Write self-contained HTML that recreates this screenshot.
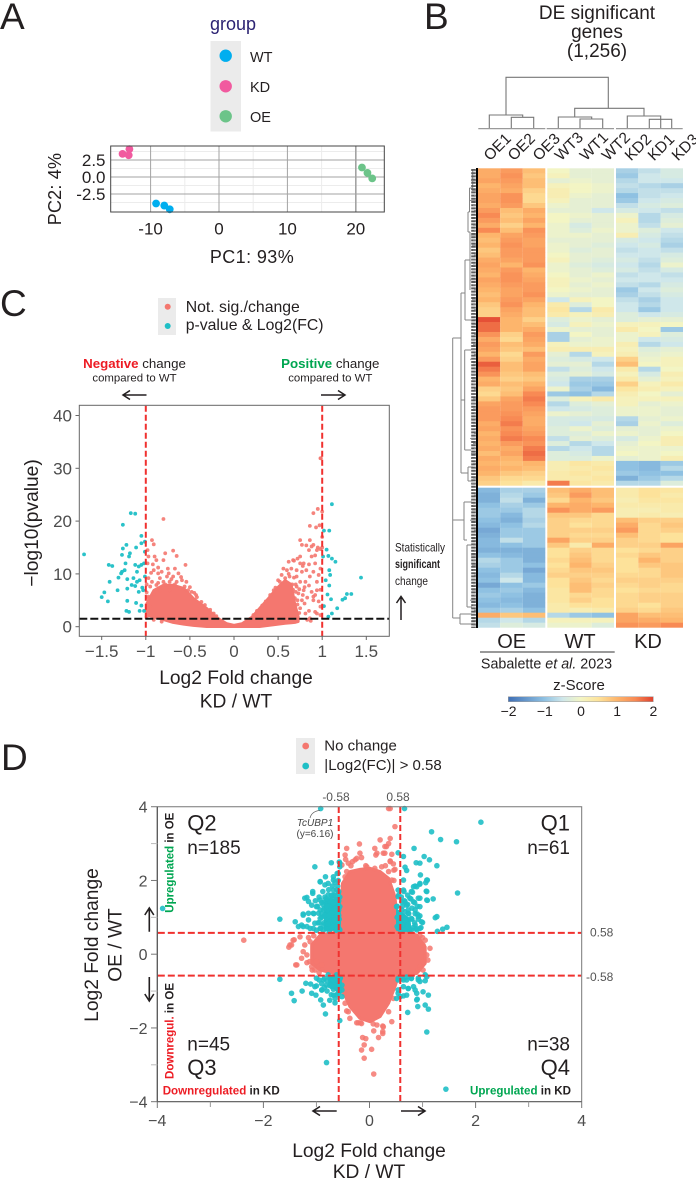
<!DOCTYPE html>
<html lang="en">
<head>
<meta charset="utf-8">
<title>DE significant genes figure</title>
<style>
html,body{margin:0;padding:0;background:#fff}
svg{display:block}
text{font-family:"Liberation Sans",sans-serif;fill:#231f20}
.let{font-size:37px}
.tick{fill:#4d4d4d;font-size:17px}
.tickd{fill:#4d4d4d;font-size:16px}
.ttl{font-size:19.2px}
</style>
</head>
<body>
<svg id="fig" xmlns="http://www.w3.org/2000/svg" width="696" height="1181" viewBox="0 0 696 1181">
<defs>
<linearGradient id="zgrad" x1="0" x2="1" y1="0" y2="0">
<stop offset="0" stop-color="#3f6fb5"/><stop offset=".25" stop-color="#8fc1e2"/><stop offset=".375" stop-color="#cfe7ea"/><stop offset=".5" stop-color="#f3f5c4"/><stop offset=".625" stop-color="#fde29a"/><stop offset=".75" stop-color="#fdb56c"/><stop offset=".875" stop-color="#f88a54"/><stop offset="1" stop-color="#e0422f"/>
</linearGradient>
</defs>
<rect width="696" height="1181" fill="#fff"/>

<text class="let" x="0" y="29">A</text>
<text class="let" x="424" y="29">B</text>
<text class="let" x="0" y="316">C</text>
<text class="let" x="1" y="770">D</text>

<!-- Panel A legend -->
<text x="210" y="30" font-size="18" style="fill:#2b2272">group</text>
<rect x="210.5" y="41" width="30.5" height="90.5" fill="#ebebeb"/>
<circle cx="225.7" cy="55.7" r="6.2" fill="#00aeef"/>
<circle cx="225.7" cy="86.3" r="6.2" fill="#f15a9f"/>
<circle cx="225.7" cy="116.3" r="6.2" fill="#6cc489"/>
<text x="250" y="62" font-size="14.5">WT</text>
<text x="250" y="92" font-size="14.5">KD</text>
<text x="250" y="122" font-size="14.5">OE</text>
<g id="pcaGrid"></g>
<g id="pcaPoints"></g>
<rect x="110.7" y="146" width="273.6" height="66" fill="none" stroke="#444" stroke-width="1"/>
<g id="pcaTicks"></g>
<text x="252" y="263" font-size="18" text-anchor="middle" style="letter-spacing:.4px">PC1: 93%</text>
<text transform="translate(61,189) rotate(-90)" font-size="18" text-anchor="middle" style="letter-spacing:.2px">PC2: 4%</text>

<!-- Panel B -->
<text x="597" y="19" font-size="19" text-anchor="middle">DE significant</text>
<text x="597" y="38" font-size="19" text-anchor="middle">genes</text>
<text x="597" y="57" font-size="19" text-anchor="middle">(1,256)</text>
<path d="M506 115V77.3H608.3V108.3M489.3 128.3V115H522.7V117.3M511.3 128.3V117.3H533.7V128.3M574.7 117V108.3H644V116M558.3 128.3V117H591.7V119M580 128.3V119H602.7V128.3M627.3 128.3V116H660.7V128.3M649.3 128.3V119.3H671.7V128.3" fill="none" stroke="#777" stroke-width="1.1"/>
<path d="M478.3 128.6H545.3M546.7 128.6H614M616 128.6H682.7" stroke="#9a9a9a" stroke-width="1.2" fill="none"/>
<g id="colLabels"></g>
<path d="M452.7 338V618M452.7 338H461M461 293V473M461 293H465M465 260V320M465 260H470M470 232V290M470 232H468M468 212V232M468 212H469.5M469.5 188V212M469.5 188H472.7M472.7 170V188M465 320H471M461 400H464.7M464.7 350V450M464.7 350H471M464.7 450H471M461 473H468M468 467V481M468 467H473M468 481H473M452.7 520H464M464 502V540M464 502H472M464 540H467M467 545V607M467 545H472M467 607H472M452.7 618H460M460 614V624M460 614H472M460 624H472" fill="none" stroke="#858585" stroke-width="1"/>
<line x1="473.5" x2="473.5" y1="169" y2="628" stroke="#5c5c5c" stroke-width="4.6" stroke-dasharray="2 1.2"/>
<g id="rowDendro"></g>
<g id="heatmap"></g>
<rect x="476" y="168" width="2" height="460" fill="#000"/>
<text x="511.7" y="648" font-size="20" text-anchor="middle">OE</text>
<text x="580" y="648" font-size="20" text-anchor="middle">WT</text>
<text x="648" y="648" font-size="20" text-anchor="middle">KD</text>
<line x1="480" x2="614.7" y1="652" y2="652" stroke="#333" stroke-width="1"/>
<text x="546.5" y="668.3" font-size="14.3" text-anchor="middle">Sabalette <tspan font-style="italic">et al.</tspan> 2023</text>
<text x="579" y="690" font-size="15" text-anchor="middle">z-Score</text>
<rect x="508.3" y="696.7" width="145" height="5" fill="url(#zgrad)" stroke="#999" stroke-width=".5"/>
<g id="zTicks"></g>

<!-- Panel C -->
<rect x="158" y="298" width="18" height="37" fill="#ebebeb"/>
<circle cx="167.7" cy="306.7" r="3" fill="#f4776f"/>
<circle cx="167.7" cy="326" r="3" fill="#1fbfc6"/>
<text x="185.7" y="312" font-size="15.8">Not. sig./change</text>
<text x="185.7" y="330" font-size="15.8">p-value &amp; Log2(FC)</text>
<text x="134.5" y="368" font-size="13.3" text-anchor="middle"><tspan font-weight="bold" style="fill:#ed1c24">Negative</tspan> change</text>
<text x="134.5" y="381.7" font-size="11.4" text-anchor="middle">compared to WT</text>
<text x="330.3" y="368" font-size="13.3" text-anchor="middle"><tspan font-weight="bold" style="fill:#00a651">Positive</tspan> change</text>
<text x="330.3" y="381.7" font-size="11.4" text-anchor="middle">compared to WT</text>
<path d="M146.5 395H124M130 390.5L123 395L130 399.5" fill="none" stroke="#231f20" stroke-width="1.5"/>
<path d="M321 395H345M338 390.5L345 395L338 399.5" fill="none" stroke="#231f20" stroke-width="1.5"/>
<g id="volcano"></g>
<rect x="79.3" y="405.3" width="310" height="231" fill="none" stroke="#666" stroke-width="1"/>
<g id="volcanoAxes"></g>
<text x="395" y="551.7" font-size="12" textLength="50" lengthAdjust="spacingAndGlyphs">Statistically</text>
<text x="395" y="568" font-size="12" font-weight="bold" textLength="45" lengthAdjust="spacingAndGlyphs">significant</text>
<text x="395" y="585" font-size="12" textLength="33" lengthAdjust="spacingAndGlyphs">change</text>
<path d="M401 620V597M396.5 603L401 596.5L405.5 603" fill="none" stroke="#231f20" stroke-width="1.5"/>
<text x="236" y="684" text-anchor="middle" class="ttl">Log2 Fold change</text>
<text x="236" y="707.5" text-anchor="middle" class="ttl">KD / WT</text>
<text transform="translate(38,523) rotate(-90)" text-anchor="middle" class="ttl">−log10(pvalue)</text>

<!-- Panel D -->
<rect x="296" y="738" width="19" height="36" fill="#ebebeb"/>
<circle cx="305.7" cy="746" r="3.4" fill="#f4776f"/>
<circle cx="305.7" cy="766" r="3.4" fill="#1fbfc6"/>
<text x="324.3" y="750.7" font-size="15">No change</text>
<text x="324.3" y="770" font-size="15">|Log2(FC)| &gt; 0.58</text>
<g id="quad"></g>
<path d="M157.3 1101.7V806.7H581.7V1101.7" fill="none" stroke="#777" stroke-width="1"/>
<path d="M157.3 806.7V1101.7H581.7" fill="none" stroke="#555" stroke-width="1.2"/>
<g id="quadAxes"></g>
<text x="336" y="801" font-size="12" text-anchor="middle" style="fill:#555">-0.58</text>
<text x="398" y="801" font-size="12" text-anchor="middle" style="fill:#555">0.58</text>
<text x="590" y="936.5" font-size="12" style="fill:#555">0.58</text>
<text x="586" y="981" font-size="12" style="fill:#555">-0.58</text>
<path d="M320 810.3C314 811 311 814 310 818" fill="none" stroke="#555" stroke-width=".7"/>
<text x="315" y="826" font-size="10" font-style="italic" text-anchor="middle" style="fill:#444">TcUBP1</text>
<text x="315" y="837" font-size="10" text-anchor="middle" style="fill:#444">(y=6.16)</text>
<text x="187.3" y="830.7" font-size="22">Q2</text>
<text x="187.3" y="854" font-size="19">n=185</text>
<text x="570" y="830.7" font-size="22" text-anchor="end">Q1</text>
<text x="570" y="854" font-size="19" text-anchor="end">n=61</text>
<text x="187.3" y="1050.7" font-size="19">n=45</text>
<text x="187.3" y="1075" font-size="22">Q3</text>
<text x="570" y="1050.7" font-size="19" text-anchor="end">n=38</text>
<text x="570" y="1075" font-size="22" text-anchor="end">Q4</text>
<text x="162.7" y="1094.3" font-size="12" font-weight="bold" textLength="117" lengthAdjust="spacingAndGlyphs"><tspan style="fill:#ed1c24">Downregulated</tspan> in KD</text>
<text x="470" y="1094.3" font-size="12" font-weight="bold" textLength="101" lengthAdjust="spacingAndGlyphs"><tspan style="fill:#00a651">Upregulated</tspan> in KD</text>
<text transform="translate(173.3,912.7) rotate(-90)" font-size="12" font-weight="bold" textLength="100" lengthAdjust="spacingAndGlyphs"><tspan style="fill:#00a651">Upregulated</tspan> in OE</text>
<text transform="translate(173.3,1079) rotate(-90)" font-size="12" font-weight="bold" textLength="96" lengthAdjust="spacingAndGlyphs"><tspan style="fill:#ed1c24">Downregul.</tspan> in OE</text>
<path d="M149.3 931.7V909M144.8 915L149.3 908L153.8 915" fill="none" stroke="#231f20" stroke-width="1.6"/>
<path d="M149.3 977V1000M144.8 994L149.3 1001L153.8 994" fill="none" stroke="#231f20" stroke-width="1.6"/>
<path d="M336.7 1111H314M320 1106.5L313 1111L320 1115.5" fill="none" stroke="#231f20" stroke-width="1.6"/>
<path d="M401 1111H424.5M418 1106.5L425 1111L418 1115.5" fill="none" stroke="#231f20" stroke-width="1.6"/>
<text x="369" y="1157" text-anchor="middle" class="ttl">Log2 Fold change</text>
<text x="369" y="1178" text-anchor="middle" class="ttl">KD / WT</text>
<text transform="translate(98,945) rotate(-90)" text-anchor="middle" class="ttl">Log2 Fold change</text>
<text transform="translate(121.5,945) rotate(-90)" text-anchor="middle" class="ttl">OE / WT</text>
</svg>

<script>
/* ---------- Panel A data ---------- */
const pcaXTicks = [-10, 0, 10, 20];
const pcaYTicks = [2.5, 0, -2.5];
const pcaXMinor = [-5, 5, 15];
const pcaYMinor = [3.75, 1.25, -1.25, -3.75];
const pcaKD = [[-14.1, 3.4], [-13.1, 4.1], [-13.2, 3.2]];
const pcaWT = [[-9.2, -3.9], [-8.0, -4.2], [-7.2, -4.75]];
const pcaOE = [[20.9, 1.4], [21.7, 0.6], [22.4, -0.2]];

/* ---------- Panel B data ---------- */
const heatColumns = ['OE1', 'OE2', 'OE3', 'WT3', 'WT1', 'WT2', 'KD2', 'KD1', 'KD3'];
const zTickValues = [-2, -1, 0, 1, 2];
const heatRowsUpper = [
[1.1,1.3,.9,0,-.2,-.2,-.8,-.6,-.4],[1.1,1.4,.8,.1,-.2,-.2,-.9,-.5,-.4],[1.2,1.3,.9,-.2,-.1,-.2,-.7,-.5,-.5],[1.0,1.2,.9,.1,0,-.1,-.6,-.7,-.8],
[1.1,1.1,.7,.2,0,-.1,-.7,-.6,-.6],[1.2,1.4,.6,.2,-.1,-.2,-1.0,-.6,-.5],[1.2,1.4,.6,.1,-.2,-.2,-.9,-.5,-.4],[1.1,1.3,.8,-.1,-.2,-.2,-.6,-.4,-.3],
[1.3,.9,1.1,-.2,-.2,-.5,-.4,-.5,-.6],[1.5,.8,1.0,0,-.1,-.2,-.1,-.7,-.4],[1.3,.9,1.2,0,-.2,-.2,.1,-.7,-.3],[1.1,.7,1.0,-.1,-.4,-.2,-.1,-.6,-.2],
[1.5,.9,1.4,-.1,-.3,-.1,-.1,-.3,-.5],[1.0,1.2,1.3,-.1,-.1,-.2,.2,-.4,-.6],[.9,1.3,1.2,-.2,-.2,-.2,-.4,-.5,-.7],[1.0,1.4,1.2,-.1,-.2,-.3,-.5,-.4,-.8],
[.8,1.3,1.3,-.1,-.3,-.2,-.6,-.5,-.6],[.9,1.3,1.3,0,-.2,-.2,-.5,-.5,-.4],[1.1,1.2,1.3,.1,-.2,-.3,-.4,-.6,-.3],[1.2,1.0,1.4,-.1,-.3,-.4,-.5,-.7,-.1],
[1.1,1.3,1.0,-.1,-.2,-.3,-.4,-.6,-.4],[1.0,1.4,1.1,0,-.2,-.1,-.6,-.5,-.6],[1.2,1.4,1.2,.1,-.1,-.2,-.5,-.5,-.5],[1.1,1.3,1.3,.1,-.2,-.1,-.6,-.7,-.4],
[1.0,1.2,1.3,0,-.1,-.2,-.9,-.5,-.3],[.9,1.2,1.4,-.1,-.2,-.2,-.8,-.6,-.4],[1.0,1.3,1.2,-.5,.1,0,-.6,-.8,-.5],[.8,1.4,1.0,.3,-.3,0,-.5,-.7,-.5],
[.7,1.2,.9,.4,-.7,.3,-.5,-.9,-.5],[.7,1.1,.9,.3,.1,.2,-.3,-.5,-.4],[1.9,1.0,.7,-.3,-.1,-.2,-.3,-.2,-.2],[1.7,1.0,.9,-.4,.1,-.1,.1,.1,0],
[1.7,1.0,1.1,-.1,-.2,-.2,.3,0,-.9],[1.4,.7,1.3,-.8,0,-.2,-.1,.1,-.3],[1.1,.6,1.2,-.8,-.2,-.1,-.1,-.5,-.4],[1.3,.9,1.1,.1,-.1,-.1,.2,-.7,-.5],
[1.2,.8,.9,.2,.2,.2,.1,-.3,-.2],[1.0,.6,1.3,-.2,-.7,.1,.2,-.2,-.1],[1.3,.7,1.1,-.3,-.4,-.5,.7,-.1,.1],[1.8,.9,1.2,-.2,-.2,-.7,.9,0,.1],
[1.6,.9,1.2,-.6,-.3,-.5,.3,-.7,0],[1.4,.8,.9,-.3,-.2,-.4,.1,-.4,.2],[1.0,.7,.8,-.4,-.8,-.8,.3,-.2,.1],[1.1,.9,1.0,-.5,-.9,-.9,.7,.1,.3],
[.7,.8,1.2,-.1,-.8,-1.1,.4,.2,.1],[.6,.9,1.5,-.9,-1.0,-.7,.2,0,-.2],[.8,1.2,1.6,-.3,.1,.3,.1,.1,.1],[1.2,1.3,1.5,-.7,-.3,-.2,.1,-.2,-.1],
[1.3,1.3,1.3,-.5,-.4,-.3,-.1,-.1,-.2],[1.3,1.4,1.2,-.1,-.2,-.3,-.1,-.1,-.2],[1.3,1.5,1.1,-.4,-.4,-.4,-.7,-.2,-.1],[1.1,1.6,1.1,-.4,-.5,-.2,-.8,-.1,-.3],
[1.2,1.4,1.2,-.3,-.1,-.3,-.2,-.2,-.1],[1.0,1.5,1.3,-.3,-.3,-.1,-.1,-.2,0],[1.1,1.6,1.5,-.6,-.2,-.3,-.4,-.1,.2],[1.0,1.3,1.4,-.3,-.7,-.5,-.2,0,.2],
[1.1,1.1,1.6,-.7,-.5,-.7,-.1,-.1,-.1],[.9,1.2,1.7,-.3,-.4,-.7,0,-.1,0],[1.1,1.0,1.6,-.3,-.3,-.1,-.2,-.1,.2],[1.0,.9,1.0,.2,.4,.3,-1.0,-1.1,-.9],
[1.1,1.0,.9,.2,.3,.4,-1.0,-1.1,-.7],[1.0,.8,.7,.3,.4,.3,-.9,-1.0,-1.0],[.8,.6,.6,.3,.3,.4,-1.2,-.9,-.7],[.7,.5,.3,1.6,.4,.3,-.7,-.7,-.3]
];
const heatRowsLower = [
[-1.1,-.8,-.8,.9,1.1,.9,.3,.5,.4],[-1.2,-.7,-.9,.8,1.3,.9,.3,.5,.3],[-1.2,-.6,-1.2,.6,1.0,.8,.2,.4,.4],[-1.0,-.8,-.9,1.0,1.1,1.0,.3,.3,.3],
[-.9,-.9,-.7,1.4,1.1,1.3,.2,.2,.3],[-.9,-1.1,-.7,.8,.8,.6,.2,.3,.2],[-1.0,-1.2,-.8,.7,.6,.6,.9,.7,.7],[-1.1,-1.0,-.7,.7,.5,.6,1.1,.6,.8],
[-1.3,-.9,-.9,.7,.7,.7,1.3,.6,.7],[-1.2,-.9,-.9,.7,.6,.6,.9,.6,.5],[-1.1,-.6,-.9,1.2,.7,.7,.7,.6,.5],[-1.1,-1.0,-.9,.8,.3,1.1,.7,.7,1.2],
[-1.2,-1.2,-1.2,.5,.7,.6,.5,.6,.7],[-1.0,-1.1,-1.2,.5,.8,.6,.6,.8,.7],[-.7,-.9,-1.2,.6,.9,.6,.5,1.0,.7],[-.8,-.9,-1.0,.5,1.0,.7,.5,.8,.8],
[-1.0,-.9,-1.3,.6,.8,.8,.5,.6,.8],[-1.1,-.7,-1.1,.7,.7,.7,.6,.6,.8],[-1.0,-.5,-1.1,.5,.8,.6,.7,.7,.7],[-1.3,-1.0,-.9,.5,.9,.7,.6,.7,.6],
[-1.0,-.9,-1.1,.4,.9,.6,.5,.6,.6],[-.9,-1.0,-1.2,.4,.6,.6,.6,.7,.7],[-1.0,-1.1,-1.2,.4,.7,.5,.6,.7,.7],[-1.1,-1.0,-1.2,.3,.5,.5,.6,.5,.7],
[-.9,-.8,-1.0,.3,.2,.3,.7,.6,.8],[1.1,.8,.9,-.7,-.9,-1.0,1.2,.9,.9],[-.7,-.5,-.7,.1,.1,.1,1.2,1.1,1.0],[-.6,-.3,-.4,-.1,-.1,-.3,1.4,1.3,1.5]
];
const rowBranchDepths = [3,2,5,3,4,2,6,3,2,5,4,3,2,5,3,4];

/* ---------- Panel C data ---------- */
const volcanoXTicks = [-1.5, -1, -0.5, 0, 0.5, 1, 1.5];
const volcanoXLabels = ['−1.5', '−1', '−0.5', '0', '0.5', '1', '1.5'];
const volcanoYTicks = [0, 10, 20, 30, 40];
const volcanoCloudX = [-.99, -.91, -.8, -.69, -.57, -.46, -.31, -.2, -.08, 0, .09, .2, .29, .39, .48, .58, .65, .69, .73];
const volcanoCloudUpper = [4.4, 6.9, 7.9, 7.9, 7.3, 5.4, 3.5, 1.8, .6, .3, .6, 1.8, 3.5, 5.4, 7.2, 8.8, 8, 4.4, 1.9];
const volcanoCloudLower = [2.2, 1.8, 1.3, .76, .44, .2, 0, 0, 0, 0, 0, 0, 0, .2, .4, .6, .7, .76, .95];
const volcanoPink = [[-.93,16.4],[-.91,15.6],[-.8,20.4],[-.69,14.4],[-.65,13.4],[-.9,13.3],[-.78,13.9],[-.88,12.6],[-.8,12.6],[-.97,13.3],[-.55,11.7],[-.67,11],[-.63,10.1],[-.82,10.4],[-.74,10.1],[-.86,10.1],[-.91,10.7],[-.97,9.2],[-.93,8.5],[-.84,9.2],[-.76,9.5],[-.69,9.5],[-.73,8.5],[-.8,8.5],[-.88,7.9],[-.95,7.6],[-.65,8.5],[-.59,8.8],[-.54,8.5],[-.56,7.6],[-.48,6.6],[-.43,6],[-.97,5.7],[-.98,3.5],[-.95,3.8],[-.91,6.3],[-.97,5.4],[-.84,6.9],[-.99,1.9],[-.91,1.3],[-.82,.95],[-.73,6.9],[-.61,7.3],[-.52,6.9],[-.42,5.6],[-.37,4.7],[-.33,4.1],[-.27,3.2],[-.23,2.5],[-.2,2],[-.98,12],[-.92,11.8],[-.86,11.2],[-.75,11],[-.71,9],[-.6,9.4],[-.78,8],[-.99,8],[-.99,6.5],[-.86,8.3],[-.67,8],[-.5,7.5],[-.45,6.4],[-.98,14.5],[-.94,10.2],
[.75,16.4],[.86,16.4],[.77,15.5],[.88,15.2],[.94,14.5],[.67,12.6],[.62,12.3],[.75,13.3],[.79,12],[.88,13.3],[.56,11],[.5,8.8],[.54,9.8],[.6,10.7],[.65,11],[.71,10.7],[.77,10.4],[.82,10.7],[.9,10.4],[.96,9.8],[.71,9.5],[.75,8.5],[.81,8.5],[.86,9.5],[.94,8.5],[.71,7.6],[.73,6.3],[.79,6.9],[.88,6.6],[.94,6.9],[.69,5.4],[.77,5],[.9,5.7],[.75,3.5],[.81,2.5],[.98,3.8],[.69,3.2],[.65,1.9],[.86,1.6],[.94,2.5],[.45,6.9],[.41,6],[.58,9.2],[.63,9.5],[.9,15.5],[.82,15.4],[.85,14.5],[.95,15],[.98,14.7],[.92,13.5],[.72,12.9],[.68,12.5],[.75,12],[.78,11.5],[.85,11.8],[.92,12],[.98,11],[.8,7.5],[.85,7.8],[.98,7],[.92,6],[.83,5.5],[.9,5],[.96,4.8],[.85,3],[.92,2.8],[.98,2.2],[.83,1.3],[.87,1.1],[.97,19.2],[.86,19.1],[.93,18.8],[.95,22.3],[.9,21.5],[1,21.8],[.98,31.9],[.985,31.9],[1,17],[1,15],[.7,8],[.62,10],[.66,8],[.72,5],[.52,8.5],[.47,7.4],[.36,4.8],[.32,4],[.26,3],[.22,2.2],[.7,6.6],[.67,7],[.72,4.2],[.7,2.5],[.74,2.6],[.68,9.3],[.74,7.1],[.78,6],[.8,4.4]];
const volcanoTeal = [[-1.7,13.7],[-1.17,21.5],[-1.12,21.4],[-1.26,19.3],[-1.22,15.5],[-1.26,14.8],[-1.27,13.6],[-1.18,13.9],[-1.19,13.3],[-1.11,15],[-1.05,17.2],[-1.01,16.1],[-1.05,15.8],[-1.42,11.7],[-1.38,11.5],[-1.23,12],[-1.24,10.7],[-1.27,10.4],[-1.28,10.1],[-1.31,9.3],[-1.41,8.5],[-1.32,6.9],[-1.47,6.5],[-1.5,5.6],[-1.43,4.8],[-1.21,9],[-1.14,9.2],[-1.21,7.2],[-1.16,7.9],[-1.12,7.7],[-1.1,8.5],[-1.07,8.8],[-1.08,6.6],[-1.04,7.4],[-1.01,9.5],[-1.02,12],[-1.05,11.7],[-1.08,11.4],[-1.12,11.7],[-1.1,10.4],[-1.21,4.9],[-1.11,4.5],[-1.05,4],[-1.02,3],[-1.07,3],[-1.22,3],[-1.19,2.8],[-1.01,14.2],[-1.03,6.9],
[1.11,23.2],[1.02,18.2],[1.08,18.2],[1.05,14.6],[1.07,13.4],[1.11,12.9],[1.15,12.3],[1.08,10.7],[1.09,9.8],[1.04,8.8],[1.08,7.8],[1.06,6.1],[1.1,5.2],[1.02,3.9],[1.17,3.5],[1.11,2.5],[1.07,1.9],[1.23,5.1],[1.26,5.4],[1.28,6.2],[1.33,6.2],[1.44,9.3],[1.01,13.3]];
const volcanoVThresholds = [-1, 1];
const volcanoHThreshold = 1.5;

/* ---------- Panel D data ---------- */
const quadMajorTicks = [-4, -2, 0, 2, 4];
const quadMajorLabels = ['−4', '−2', '0', '2', '4'];
const quadMinorTicks = [-3, -1, 1, 3];
const quadCloudX = [-1.09, -.93, -.56, -.51, -.37, -.18, .01, .2, .36, .48, .54, .89, 1.05];
const quadCloudUpper = [.25, .52, .61, 1.92, 2.24, 2.3, 2.33, 2.24, 2.06, 1.56, .66, .52, .2];
const quadCloudLower = [-.25, -.43, -.56, -.97, -1.42, -1.74, -1.83, -1.69, -1.33, -.88, -.61, -.52, -.25];
const quadTealCoreUL = {x: [-.84, -.56], up: [1.4, 1.55], lo: [.66, .66]};
const quadTealCoreUR = {x: [.52, .76], up: [1.2, .95], lo: [.66, .66]};
const quadTealCoreLL = {x: [-.76, -.54], up: [-.62, -.6], lo: [-.85, -1.05]};
const quadPink = [[-.13,-2.26],[-.07,-2.29],[.17,-2.26],[.25,-1.95],[.25,-2.1],[.08,-2.08],[-.1,-2.46],[-.15,-2.6],[.04,-2.58],[-.1,-2.82],[.08,-3.25],[.42,-1.83],[-.43,-1.54],[-.24,-1.86],[-.17,-1.86],[-1.39,-.29],[-1.18,-.23],[-1.08,-.43],[1.1,-.16],[1.01,-.43],[-2.37,.38],[-1.52,.19],[-1.47,.25],[-1.42,.39],[.36,3.95],[.39,3.95],[.48,3.46],[.2,3.1],[.39,3.14],[.36,3],[.1,2.87],[.32,2.92],[-.19,2.99],[-.43,2.87],[-.46,2.69],[-.45,2.57],[-.27,2.56],[-.15,2.62],[-.52,2.42],[-.05,2.37],[.26,2.74],[.42,2.71],[.12,2.69],[.39,2.53],[-.07,2.4],[-.18,2.74],[.48,2.3],[.45,2.45],[.3,2.4],[.46,2],[-.35,2.4],
[-1.5,.25],[-1.44,.38],[-1.37,-.29],[-1.28,-.11],[-1.25,.07],[-1.22,.25],[-1.31,.47],[-1.12,.34],[-1.13,-.2],[-1.09,-.34],[-1,-.2],[-1.18,-.02],[-1.03,-.43],[-.9,-.29],[-1.15,.45],[-1.05,.5],[-.95,-.5],
[1.14,.16],[1.08,-.02],[1.01,.25],[1.01,-.2],[.95,-.34],[1.05,.38],[.92,-.43],[1,.45],[.95,.5],
[-.4,2.47],[-.32,2.51],[.39,2.51],[.29,2.74],[.14,2.74],[.23,2.37],[.1,2.33],[.46,2.28],[.36,2.24],[.42,2.01],[-.43,2.24],[-.46,2.1],[.29,2.92],[-.24,2.6],
[-.4,-1.56],[-.46,-1.33],[-.37,-1.74],[-.21,-1.86],[-.15,-1.88],[.07,-1.89],[.14,-1.92],[.26,-1.97],[.25,-2.15],[.36,-1.56],[.45,-1.2],[-.48,-1.06]];
const quadTeal = [[-.92,3.95],[-3.9,1.24],[-1.69,.95],[-1.4,.88],[-1.03,2.37],[-.72,2.48],[-.57,2.5],[-.56,2.37],[-.83,2.1],[-.93,1.96],[-.68,2.1],[-.61,2.19],[-1.18,1.54],[-1.07,1.65],[-1.15,1.43],[-1.09,1.33],[-1.25,1.09],[-1.15,1.11],[-1.34,.75],[-1.25,.75],[-1.12,.7],
[-1.02,1.45],[-.98,1.3],[-.95,1.55],[-.93,1.2],[-.9,1.4],[-.9,1],[-.88,1.7],[-.86,.85],[-.85,1.25],[-.84,1.55],[-.82,1.05],[-.8,.75],[-.8,1.45],[-.78,1.2],[-.77,1.75],[-.75,.95],[-.74,1.5],[-.72,.7],[-.72,1.25],[-.7,1.85],[-.7,1.05],[-.68,1.6],[-.67,.8],[-.66,1.35],[-.65,1.95],[-.64,1.1],[-.63,.65],[-.62,1.75],[-.61,1.5],[-.6,.9],[-.6,1.25],[-.59,2],[-.58,.7],[-.58,1.05],[-.58,1.45],[-.58,1.7],[-1.05,1.1],[-.97,.85],[-.92,.7],[-1,.65],[-.87,.65],[-.76,.62],
[-1.06,1.11],[-1.22,1.52],[-1.07,1.7],[-.93,1.47],[-.84,1.42],[-1,1.29],[-.87,1.2],[-.74,1.33],[-.62,1.42],[-.59,1.65],[-.68,1.74],[-.78,1.61],[-.56,1.29],[-.71,1.11],[-.62,1.02],[-.81,.97],[-.93,.97],[-1.03,.84],[-1.15,.93],[-1.25,1.06],[-1.28,.79],[-1.18,.75],[-1.06,.7],[-.93,.7],[-.81,.7],[-.68,.75],[-.59,.84],[-.56,.66],[-.74,.88],[-.87,.79],[-.96,1.11],[-.65,1.24],[-.78,1.92],[-.84,1.88],[-.68,2.01],[-.59,2.19],[-.56,2.47],[-.93,1.97],[-.7,1.5],[-.65,1.6],[-.75,1.45],[-.8,1.3],[-.9,1.1],[-.95,.85],[-.85,1.05],[-.76,1.05],[-.66,.92],[-.62,.75],[-.72,.72],[-.78,.82],[-.68,1.38],[-.58,1.2],[-.57,.95],[-.56,1.55],[-.6,1.85],[-.72,1.6],[-.82,1.5],[-.88,1.35],
[.66,3.95],[2.1,3.58],[1.17,3.32],[1.34,3.11],[1.64,3.05],[.84,2.87],[.54,2.75],[.64,2.65],[1.03,2.65],[1.13,2.56],[.88,2.48],[.95,2.47],[1.27,2.4],[.67,2.36],[.7,2.27],[.96,2.15],[1.09,2.01],[1.06,1.94],[.86,1.85],[.95,1.9],[.64,2.01],[1.66,1.66],[1.07,1.71],[.64,1.74],[.81,1.68],[.95,1.52],[1.09,1.46],[1.2,1.5],[1.27,1.02],[1.24,.99],[1.46,.73],[1.38,.68],[1.28,.62],[1,.86],[.9,1.09],[.95,1.04],
[.6,1.55],[.62,1.3],[.6,1.05],[.61,.8],[.59,.65],[.66,1.45],[.67,1.15],[.68,.9],[.69,.68],[.72,1.35],[.74,1.1],[.73,.8],[.75,.65],[.78,1.5],[.8,1.25],[.8,.95],[.82,.72],[.85,1.4],[.86,1.1],[.85,.85],[.88,.7],[.9,1.3],[.92,.95],[.72,1.6],[.65,1.7],[.97,.72],[.52,1.3],[.52,1],[.52,.75],[.55,1.6],
[.54,1.56],[.61,1.42],[.7,1.33],[.83,1.42],[.92,1.52],[1.08,1.47],[.79,1.7],[.89,1.83],[1.08,1.7],[.61,1.2],[.73,1.11],[.86,1.2],[.95,1.29],[.54,1.02],[.67,.93],[.79,.97],[.92,1.02],[.98,.88],[.61,.79],[.73,.75],[.86,.79],[.95,.7],[.54,.7],[.64,.66],[.79,.66],[.89,.66],[.51,1.29],[.54,1.74],[.83,1.83],[.95,1.92],[1.08,2.01],[.73,1.2],[.67,1.42],[.76,1.52],
[-1.69,-.68],[-1.47,-1.06],[-1.42,-1.26],[-1.27,-1],[-1.2,-.79],[-1.11,-.81],[-1.09,-1.06],[-1,-.65],[-1,-.86],[-1.01,-1.11],[-.9,-.97],[-.92,-1.24],[-.87,-1.38],[-.83,-1.62],[-.65,-1.32],[-.56,-1.8],[-.81,-2.94],
[-.95,-.7],[-.9,-.8],[-.85,-.65],[-.85,-.9],[-.8,-.72],[-.8,-1],[-.75,-.65],[-.75,-.85],[-.72,-1.1],[-.7,-.7],[-.68,-.95],[-.65,-.62],[-.65,-.8],[-.62,-1.1],[-.6,-.7],[-.6,-.95],[-.58,-.85],[-.57,-1],[-.55,-.65],[-.75,-1.25],
[-.87,-.7],[-.78,-.56],[-.68,-.7],[-.62,-.56],[-.56,-.66],[-.81,-.84],[-.71,-.88],[-.62,-.88],[-.52,-.84],[-.68,-1.11],[-.59,-1.06],[-.52,-.97],[-.52,-1.15],[-.65,-1.2],[-.9,-.97],[-1.03,-.88],
[1.08,-2.11],[1.44,-3.66],[.72,-1.58],[.91,-1.42],[1.05,-1.38],[1.11,-1.49],[1.11,-1.11],[.9,-1.22],[.64,-1.13],[.54,-1.06],[.51,-1.2],[1.01,-1.02],[.86,-.97],[.73,-.93],[.95,-.74],[1.05,-.56],[.92,-.65],[.64,-.7],[.54,-.7],[.7,-.62],[.79,-.65],[1.05,-.72],[1.08,-.61],
[.61,-.66],[.7,-.7],[.79,-.66],[.92,-.7],[.64,-.88],[.73,-.93],[.83,-.88],[.54,-.97],[.58,-1.15],[.7,-1.11],[.89,-1.06],[.89,-1.24],[.54,-.66]];
const quadThresholds = [-0.58, 0.58];

/* ---------- axis functions ---------- */
const xA = v => 219 + 6.84 * v;
const yA = v => 177 - 6.8 * v;
const xC = v => 234 + 88.2 * v;
const yC = v => 626.7 - 5.28 * v;
const xD = v => 369.5 + 53.05 * v;
const yD = v => 954.2 - 36.87 * v;

const NS = 'http://www.w3.org/2000/svg';
function mk(tag, parent, attrs, txt) {
  const e = document.createElementNS(NS, tag);
  for (const k in attrs) e.setAttribute(k, attrs[k]);
  if (txt !== undefined) e.textContent = txt;
  parent.appendChild(e);
  return e;
}
const $ = id => document.getElementById(id);

/* ---------- Panel A ---------- */
pcaXMinor.forEach(v => {
  const el = mk('line', $('pcaGrid'), {x1: xA(v), x2: xA(v), y1: 146, y2: 212, stroke: '#ececec', 'stroke-width': 1});
  
  
});
pcaYMinor.forEach(v => {
  const el = mk('line', $('pcaGrid'), {x1: 110.7, x2: 384.3, y1: yA(v), y2: yA(v), stroke: '#ececec', 'stroke-width': 1});
  
  
});
pcaXTicks.forEach(v => {
  const el = mk('line', $('pcaGrid'), {x1: xA(v), x2: xA(v), y1: 146, y2: 212, stroke: '#a3a3a3', 'stroke-width': v === 20 ? 1.6 : 1});
  
  
  const t = mk('text', $('pcaTicks'), {x: xA(v), y: 234.5, 'text-anchor': 'middle', 'font-size': 17}, String(v));
  
  
});
pcaYTicks.forEach(v => {
  const el = mk('line', $('pcaGrid'), {x1: 110.7, x2: 384.3, y1: yA(v), y2: yA(v), stroke: '#a3a3a3', 'stroke-width': 1});
  
  
  const t = mk('text', $('pcaTicks'), {x: 105.5, y: yA(v) + 6, 'text-anchor': 'end', 'font-size': 17}, v.toFixed(1));
  
  
});
function pcaGroup(points, colour) {
  points.forEach(p => {
    const el = mk('circle', $('pcaPoints'), {cx: xA(p[0]), cy: yA(p[1]), r: 3.9, fill: colour});
    
    
  });
}
pcaGroup(pcaKD, '#f15a9f');
pcaGroup(pcaWT, '#00aeef');
pcaGroup(pcaOE, '#6cc489');

/* ---------- Panel B ---------- */
const heatStops = [[-2,[63,111,181]],[-1,[143,193,226]],[-.5,[207,231,234]],[0,[243,245,196]],[.5,[253,226,154]],[1,[253,181,108]],[1.5,[248,138,84]],[2,[224,66,47]]];
function heatColour(v) {
  const z = Math.max(-2, Math.min(2, v));
  for (let i = 0; i < heatStops.length - 1; i++) {
    const a = heatStops[i], b = heatStops[i + 1];
    if (z <= b[0]) {
      const f = (z - a[0]) / (b[0] - a[0]);
      return 'rgb(' + a[1].map((c, k) => Math.round(c + (b[1][k] - c) * f)).join(',') + ')';
    }
  }
  return 'rgb(224,66,47)';
}
const heatColX = [477.7, 500.2, 522.8, 547.3, 569.5, 591.8, 616, 638.3, 660.6];
const heatColW = [22.5, 22.6, 22.5, 22.2, 22.3, 22.2, 22.3, 22.3, 22.4];
const colLabelX = [490, 514, 539, 561, 586, 608, 631, 654, 678];
function drawHeatBlock(rows, top, bottom) {
  const h = (bottom - top) / rows.length;
  rows.forEach((row, r) => {
    row.forEach((v, c) => {
      const el = mk('rect', $('heatmap'), {x: heatColX[c], y: top + r * h, width: heatColW[c], height: h + (r < rows.length - 1 ? .4 : 0), fill: heatColour(v)});
      
      
    });
    const d = rowBranchDepths[r % rowBranchDepths.length];
    const tick = mk('line', $('rowDendro'), {x1: 476 - d, x2: 476, y1: top + r * h + h / 2, y2: top + r * h + h / 2, stroke: '#888', 'stroke-width': .9});
    
    
  });
}
drawHeatBlock(heatRowsUpper, 168.3, 485.7);
drawHeatBlock(heatRowsLower, 487.7, 627.7);
heatColumns.forEach((name, c) => {
  const t = mk('text', $('colLabels'), {transform: 'translate(' + colLabelX[c] + ',161.5) rotate(-45)', 'font-size': 15.5}, name);
  
  
});
const xZ = v => 581 + 36.2 * v;
zTickValues.forEach(v => {
  const t = mk('text', $('zTicks'), {x: xZ(v), y: 716, 'text-anchor': 'middle', 'font-size': 14}, String(v).replace('-', '−'));
  
  
});

/* ---------- Panel C ---------- */
function band(parent, xs, up, lo, fx, fy, fill, sw) {
  const pts = [];
  xs.forEach((x, i) => pts.push(fx(x) + ',' + fy(up[i])));
  for (let i = xs.length - 1; i >= 0; i--) pts.push(fx(xs[i]) + ',' + fy(lo[i]));
  return mk('polygon', parent, {points: pts.join(' '), fill: fill, stroke: fill, 'stroke-width': sw, 'stroke-linejoin': 'round'});
}
const vCloud = band($('volcano'), volcanoCloudX, volcanoCloudUpper, volcanoCloudLower, xC, yC, '#f4776f', 2.5);


volcanoPink.forEach(p => {
  const el = mk('circle', $('volcano'), {cx: xC(p[0]), cy: yC(p[1]), r: 1.9, fill: '#f4776f', 'fill-opacity': .9});
  
  
});
volcanoTeal.forEach(p => {
  const el = mk('circle', $('volcano'), {cx: xC(p[0]), cy: yC(p[1]), r: 1.9, fill: '#1fbfc6', 'fill-opacity': .95});
  
  
});
volcanoVThresholds.forEach(v => {
  const el = mk('line', $('volcano'), {x1: xC(v), x2: xC(v), y1: 405.8, y2: 636, stroke: '#f0312f', 'stroke-width': 2, 'stroke-dasharray': '6 3'});
  
  
});
const vH = mk('line', $('volcano'), {x1: 79.3, x2: 389.3, y1: yC(volcanoHThreshold), y2: yC(volcanoHThreshold), stroke: '#111', 'stroke-width': 2, 'stroke-dasharray': '8 3'});


volcanoXTicks.forEach((v, i) => {
  const tk = mk('line', $('volcanoAxes'), {x1: xC(v), x2: xC(v), y1: 636.3, y2: 640, stroke: '#666'});
  
  
  const t = mk('text', $('volcanoAxes'), {x: xC(v), y: 657, 'text-anchor': 'middle', class: 'tick'}, volcanoXLabels[i]);
  
  
});
volcanoYTicks.forEach(v => {
  const tk = mk('line', $('volcanoAxes'), {x1: 75.5, x2: 79.3, y1: yC(v), y2: yC(v), stroke: '#666'});
  
  
  const t = mk('text', $('volcanoAxes'), {x: 72, y: yC(v) + 6, 'text-anchor': 'end', class: 'tick'}, String(v));
  
  
});

/* ---------- Panel D ---------- */
const qCloud = band($('quad'), quadCloudX, quadCloudUpper, quadCloudLower, xD, yD, '#f4776f', 3);


quadPink.forEach(p => {
  const el = mk('circle', $('quad'), {cx: xD(p[0]), cy: yD(p[1]), r: 2.8, fill: '#f4776f', 'fill-opacity': .85});
  
  
});
[quadTealCoreUL, quadTealCoreUR, quadTealCoreLL].forEach(core => {
  const el = band($('quad'), core.x, core.up, core.lo, xD, yD, '#1fbfc6', 2);
  
  
});
quadTeal.forEach(p => {
  const el = mk('circle', $('quad'), {cx: xD(p[0]), cy: yD(p[1]), r: 2.8, fill: '#1fbfc6', 'fill-opacity': .9});
  
  
});
quadThresholds.forEach(v => {
  const a = mk('line', $('quad'), {x1: xD(v), x2: xD(v), y1: 807, y2: 1101.5, stroke: '#f0312f', 'stroke-width': 2, 'stroke-dasharray': '6 3'});
  
  
  const b = mk('line', $('quad'), {x1: 157.8, x2: 581.2, y1: yD(v), y2: yD(v), stroke: '#f0312f', 'stroke-width': 2, 'stroke-dasharray': '7 3'});
  
  
});
quadMajorTicks.forEach((v, i) => {
  const a = mk('line', $('quadAxes'), {x1: xD(v), x2: xD(v), y1: 1101.7, y2: 1108, stroke: '#777'});
  
  
  const b = mk('line', $('quadAxes'), {x1: 151, x2: 157.3, y1: yD(v), y2: yD(v), stroke: '#777'});
  
  
  const tx = mk('text', $('quadAxes'), {x: xD(v), y: 1126, 'text-anchor': 'middle', class: 'tickd'}, quadMajorLabels[i]);
  
  
  const ty = mk('text', $('quadAxes'), {x: 147.5, y: yD(v) + 6, 'text-anchor': 'end', class: 'tickd'}, quadMajorLabels[i]);
  
  
});
quadMinorTicks.forEach(v => {
  const a = mk('line', $('quadAxes'), {x1: xD(v), x2: xD(v), y1: 1101.7, y2: 1107, stroke: '#999'});
  
  
  const b = mk('line', $('quadAxes'), {x1: 151, x2: 157.3, y1: yD(v), y2: yD(v), stroke: '#bbb'});
  
  
});
</script>
</body>
</html>
